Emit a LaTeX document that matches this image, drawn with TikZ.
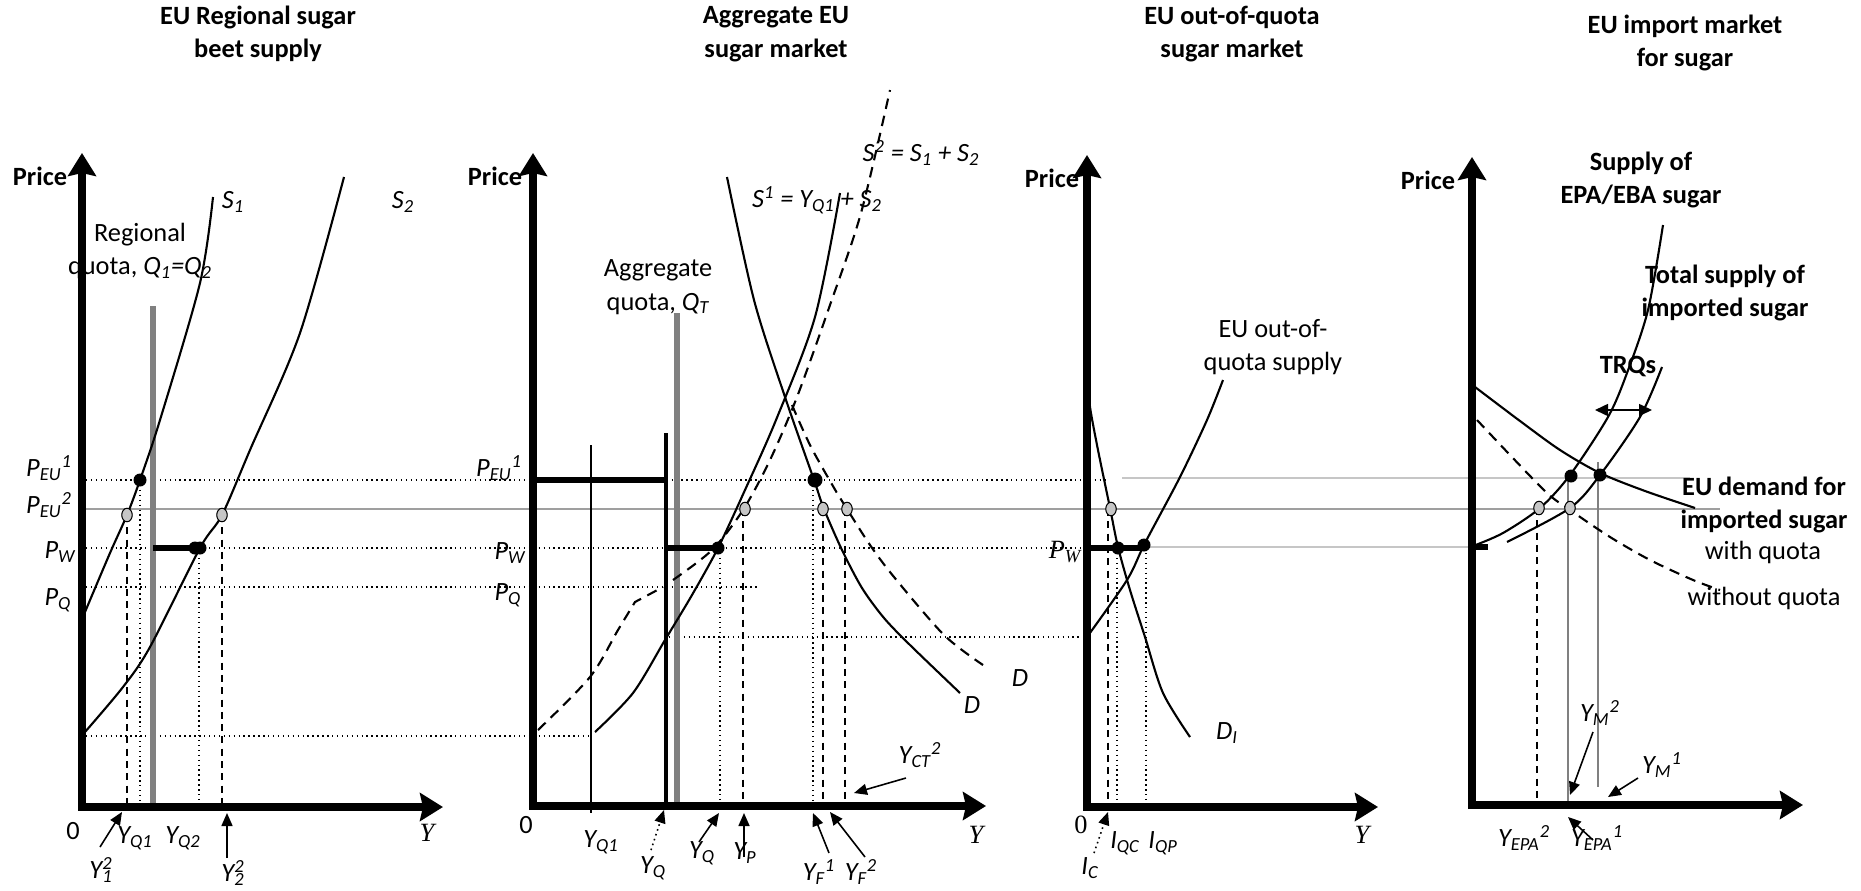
\documentclass[tikz,border=0pt]{standalone}
\usepackage{fontspec}
\setmainfont{Carlito}
\newfontfamily\tnr{Liberation Serif}
\usepackage{tikz}
\usetikzlibrary{arrows.meta,shapes.geometric}

\newcommand{\fsz}{\fontsize{15}{19}\selectfont}
\newcommand{\lsub}[2]{\textit{#1\textsubscript{#2}}}
\newcommand{\lsubsup}[3]{\textit{#1\textsubscript{#2}\textsuperscript{#3}}}
\newcommand{\lstack}[3]{\textit{#1\rlap{\textsuperscript{#3}}\textsubscript{#2}}}

\tikzset{
  curve/.style={line width=1.2pt},
  dcurve/.style={line width=1.2pt, dash pattern=on 6pt off 4pt},
  axis/.style={line width=4.6pt, -{Stealth[length=4.6mm,width=5.6mm,inset=0.6mm]}},
  guide/.style={line width=0.8pt, dotted},
  drop/.style={line width=0.9pt, dash pattern=on 4pt off 3pt},
  bar/.style={line width=3.2pt},
  quotabar/.style={line width=3.4pt, gray},
  gline/.style={line width=0.7pt, gray!75},
  lab/.style={line width=0.9pt, -{Triangle[length=2.6mm,width=2.2mm]}},
  bdot/.style={circle, fill=black, inner sep=0pt, minimum size=2.6mm},
  gdot/.style={ellipse, draw=black, line width=0.6pt, fill=gray!45, inner sep=0pt, minimum width=2.1mm, minimum height=2.7mm},
  ttl/.style={font=\fsz\bfseries, align=center},
  txt/.style={align=center}
}

\begin{document}
\begin{tikzpicture}[x=0.2mm, y=-0.2mm, every node/.style={font=\fsz, inner sep=0pt}]
\useasboundingbox (0,0) rectangle (1861,890);

% price levels running across the panels
\draw[guide] (86,480) -- (1107,480);
\draw[guide] (86,548) -- (1097,548);
\draw[guide] (86,587) -- (760,587);
\draw[guide] (86,736) -- (590,736);
\draw[guide] (669,637) -- (1082,637);
\draw[gline] (83,509) -- (1720,509);
\draw[gline, line width=1.2pt] (1503,509) -- (1720,509);
\draw[gline, gray!45] (1122,478) -- (1690,478);
\draw[gline, gray!45] (1147,547) -- (1470,547);

% ---------------- EU Regional sugar beet supply
\node[ttl] (t1) at (258,34) {EU Regional sugar\\beet supply};
\node[font=\fsz\bfseries] (pr1) at (40,176) {Price};
\draw[quotabar] (153,306) -- (153,803);
\draw[curve] plot[smooth] coordinates {(85,612) (110,553) (127,515) (140,480) (160,420) (200,283) (213,197)};
\draw[curve] plot[smooth] coordinates {(85,732) (123,687) (150,647) (200,548) (222,515) (250,450) (300,333) (344,177)};
\draw[drop] (127,515) -- (127,806);
\draw[drop] (222,515) -- (222,806);
\draw[guide] (140,480) -- (140,806);
\draw[guide] (199,548) -- (199,806);
\draw[bar] (153,548) -- (200,548);
\node[bdot] (e1) at (140,480) {};
\node[bdot] (e2) at (195,548) {};
\node[bdot] (e3) at (200,548) {};
\node[gdot] (g1) at (127,515) {};
\node[gdot] (g2) at (222,515) {};
\draw[axis] (82,810) -- (82,153);
\draw[axis] (78,807) -- (443,807);
\node (s1) at (233,202) {\lsub{S}{1}};
\node (s2) at (403,202) {\lsub{S}{2}};
\node[txt] (rq) at (140,251) {Regional\\quota, \textit{Q\textsubscript{1}=Q\textsubscript{2}}};
\node (peu1) at (49,468) {\lsubsup{P}{EU}{1}};
\node (peu2) at (49,505) {\lsubsup{P}{EU}{2}};
\node (pw1) at (60,552) {\lsub{P}{W}};
\node (pq1) at (58,600) {\lsub{P}{Q}};
\node (o1) at (73,831) {0};
\node (yq1) at (135,838) {\lsub{Y}{Q1}};
\node (yq2) at (183,838) {\lsub{Y}{Q2}};
\node (yy1) at (427,833) {\tnr\itshape Y};
\node (y21) at (101,870) {\lstack{Y}{1}{2}};
\node (y22) at (233,873) {\lstack{Y}{2}{2}};
\coordinate (a1) at (100,847); \coordinate (b1) at (122,812);
\coordinate (a2) at (227,858); \coordinate (b2) at (227,813);
\draw[lab] (a1) -- (b1);
\draw[lab] (a2) -- (b2);

% ---------------- Aggregate EU sugar market
\node[ttl] (t2) at (776,34) {Aggregate EU\\sugar market};
\node[font=\fsz\bfseries] (pr2) at (495,176) {Price};
\draw[quotabar] (677,313) -- (677,802);
\draw[line width=1pt] (591,445) -- (591,813);
\draw[line width=2.2pt] (666,433) -- (666,806);
\draw[bar] (533,480) -- (666,480);
\draw[bar] (666,548) -- (718,548);
\draw[curve] plot[smooth] coordinates {(595,732) (633,693) (665,640) (692,595) (718,548) (745,490) (776,420) (815,317) (840,193)};
\draw[dcurve] plot[smooth] coordinates {(538,730) (590,677) (618,630) (635,602)} -- (663,587);
\draw[dcurve] plot[smooth] coordinates {(673,580) (712,550) (743,510) (770,460) (797,397) (830,305) (861,213) (890,90)};
\draw[curve] plot[smooth] coordinates {(727,177) (754,300) (785,397) (814,480) (824,509) (842,550) (862,588) (884,618) (910,645) (960,693)};
\draw[dcurve] plot[smooth] coordinates {(792,405) (811,447) (837,493) (847,509) (870,545) (894,577) (944,635) (983,665)};
\draw[guide] (720,548) -- (720,806);
\draw[drop] (743,509) -- (743,806);
\draw[guide] (813,480) -- (813,806);
\draw[drop] (823,509) -- (823,806);
\draw[drop] (845,509) -- (845,806);
\node[bdot] (e4) at (718,548) {};
\node[bdot, minimum size=3mm] (e5) at (815,480) {};
\node[gdot] (g3) at (745,509) {};
\node[gdot] (g4) at (823,509) {};
\node[gdot] (g5) at (847,509) {};
\draw[axis] (533,810) -- (533,153);
\draw[axis] (529,806) -- (986,806);
\node[txt] (aq) at (658,287) {Aggregate\\quota, \lsub{Q}{T}};
\node (sa) at (817,200) {\textit{S\textsuperscript{1} = Y\textsubscript{Q1} + S\textsubscript{2}}};
\node (sb) at (921,153) {\textit{S\textsuperscript{2} = S\textsubscript{1} + S\textsubscript{2}}};
\node (peu3) at (499,468) {\lsubsup{P}{EU}{1}};
\node (pw2) at (510,553) {\lsub{P}{W}};
\node (pq2) at (508,595) {\lsub{P}{Q}};
\node (o2) at (526,825) {0};
\node (yy2) at (976,835) {\tnr\itshape Y};
\node (dd1) at (972,705) {\textit{D}};
\node (dd2) at (1020,678) {\textit{D}};
\node (yq3) at (601,842) {\lsub{Y}{Q1}};
\node (yq4) at (653,868) {\lsub{Y}{Q}};
\node (yq5) at (702,853) {\lsub{Y}{Q}};
\node (yp) at (745,853) {\lsub{Y}{P}};
\node (yf1) at (819,872) {\lsubsup{Y}{F}{1}};
\node (yf2) at (861,872) {\lsubsup{Y}{F}{2}};
\node (yct) at (920,755) {\lsubsup{Y}{CT}{2}};
\coordinate (a3) at (651,850); \coordinate (b3) at (664,810);
\coordinate (a4) at (699,842); \coordinate (b4) at (719,813);
\coordinate (a5) at (744,857); \coordinate (b5) at (744,813);
\coordinate (a6) at (829,853); \coordinate (b6) at (813,813);
\coordinate (a7) at (865,857); \coordinate (b7) at (830,812);
\coordinate (a8) at (906,778); \coordinate (b8) at (854,793);
\draw[lab, dotted] (a3) -- (b3);
\draw[lab] (a4) -- (b4);
\draw[lab] (a5) -- (b5);
\draw[lab] (a6) -- (b6);
\draw[lab] (a7) -- (b7);
\draw[lab] (a8) -- (b8);

% ---------------- EU out-of-quota sugar market
\node[ttl] (t3) at (1232,34) {EU out-of-quota\\sugar market};
\node[font=\fsz\bfseries] (pr3) at (1052,178) {Price};
\draw[curve] plot[smooth] coordinates {(1088,380) (1090,407) (1098,450) (1110,508) (1118,547) (1130,590) (1145,637) (1163,693) (1190,737)};
\draw[curve] plot[smooth] coordinates {(1087,637) (1127,580) (1145,543) (1180,477) (1207,420) (1223,380)};
\draw[bar] (1087,548) -- (1147,548);
\draw[drop] (1108,509) -- (1108,806);
\draw[guide] (1117,548) -- (1117,806);
\draw[guide] (1146,548) -- (1146,806);
\node[bdot] (e6) at (1118,548) {};
\node[bdot] (e7) at (1144,545) {};
\node[gdot] (g6) at (1111,509) {};
\draw[axis] (1087,810) -- (1087,155);
\draw[axis] (1083,807) -- (1378,807);
\node[txt] (os) at (1273,347) {EU out-of-\\quota supply};
\node (di) at (1227,733) {\lsub{D}{I}};
\node (pw3) at (1065,552) {\tnr\itshape P\textsubscript{W}};
\node (o3) at (1081,825) {\tnr 0};
\node (yy3) at (1362,835) {\tnr\itshape Y};
\node (iqc) at (1125,843) {\lsub{I}{QC}};
\node (iqp) at (1163,843) {\lsub{I}{QP}};
\node (ic) at (1090,868) {\lsub{I}{C}};
\coordinate (a9) at (1094,853); \coordinate (b9) at (1108,812);
\draw[lab, dotted] (a9) -- (b9);

% ---------------- EU import market for sugar
\node[ttl] (t4) at (1685,43) {EU import market\\for sugar};
\node[font=\fsz\bfseries] (pr4) at (1428,180) {Price};
\draw[line width=1.6pt, gray] (1568,477) -- (1568,805);
\draw[line width=1pt, gray] (1598,462) -- (1598,787);
\draw[drop] (1537,508) -- (1537,805);
\draw[curve] plot[smooth] coordinates {(1473,546) (1503,533) (1540,508) (1570,475) (1608,417) (1627,373) (1648,310) (1663,225)};
\draw[curve] plot[smooth] coordinates {(1507,542) (1570,508) (1600,475) (1640,417) (1662,367)};
\draw[curve] plot[smooth] coordinates {(1475,387) (1520,421) (1560,450) (1600,473) (1645,491) (1695,508)};
\draw[dcurve] plot[smooth] coordinates {(1477,420) (1510,455) (1547,493) (1570,510) (1610,537) (1650,560) (1693,580) (1720,590)};
\draw[bar] (1470,547) -- (1488,547);
\node[bdot] (e8) at (1571,476) {};
\node[bdot] (e9) at (1600,475) {};
\node[gdot] (g7) at (1539,508) {};
\node[gdot] (g8) at (1570,508) {};
\draw[axis] (1472,809) -- (1472,157);
\draw[axis] (1468,805) -- (1803,805);
\node[ttl] (sup) at (1641,180) {Supply of\\EPA/EBA sugar};
\node[ttl] (tot) at (1725,293) {Total supply of\\imported sugar};
\node[font=\fsz\bfseries] (trq) at (1628,367) {TRQs};
\coordinate (tl) at (1595,410); \coordinate (tr) at (1652,410);
\draw[line width=0.9pt, {Triangle[length=2.6mm,width=2.4mm]}-{Triangle[length=2.6mm,width=2.4mm]}] (tl) -- (tr);
\node[ttl] (dem) at (1764,505) {EU demand for\\imported sugar};
\node (wq) at (1763,552) {with quota};
\node (woq) at (1764,598) {without quota};
\node (yepa2) at (1524,838) {\lsubsup{Y}{EPA}{2}};
\node (yepa1) at (1597,838) {\lsubsup{Y}{EPA}{1}};
\node (ym2) at (1600,713) {\lsubsup{Y}{M}{2}};
\node (ym1) at (1662,765) {\lsubsup{Y}{M}{1}};
\coordinate (a10) at (1593,840); \coordinate (b10) at (1568,817);
\coordinate (a11) at (1593,732); \coordinate (b11) at (1570,795);
\coordinate (a12) at (1638,778); \coordinate (b12) at (1608,797);
\draw[lab] (a10) -- (b10);
\draw[lab] (a11) -- (b11);
\draw[lab] (a12) -- (b12);
\end{tikzpicture}
\end{document}
